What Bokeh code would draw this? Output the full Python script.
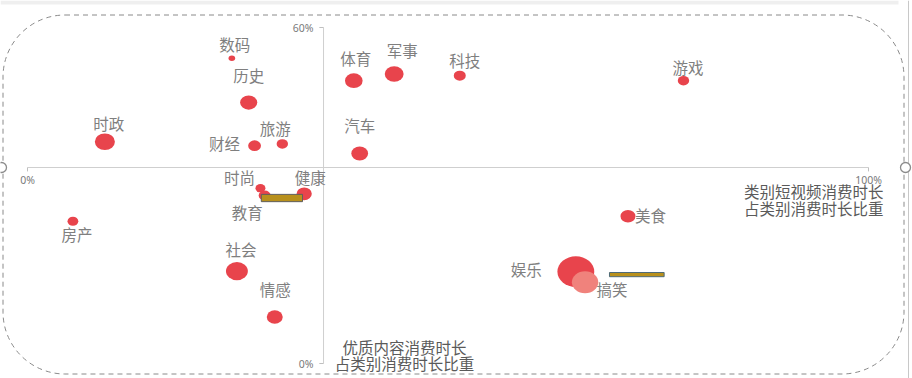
from bokeh.plotting import figure
from bokeh.models import Range1d, ColumnDataSource, BoxAnnotation
from bokeh.core.properties import value
from bokeh.embed import file_html
from bokeh.resources import INLINE

# ---------------- data ----------------
categories = ["数码", "历史", "时政", "财经", "旅游", "体育", "军事", "科技", "汽车", "游戏",
              "时尚", "教育", "健康", "房产", "社会", "情感", "美食", "娱乐", "搞笑"]
# x: 类别短视频消费时长占类别消费时长比重 (%)
short_video_share = [24.3, 26.3, 9.2, 27.0, 30.3, 38.8, 43.6, 51.4, 39.5, 78.0,
                     27.7, 28.2, 32.9, 5.4, 24.9, 29.4, 71.4, 65.2, 66.3]
# y: 优质内容消费时长占类别消费时长比重 (%)
quality_share = [54.5, 46.6, 39.6, 38.9, 39.2, 50.5, 51.7, 51.4, 37.5, 50.5,
                 31.3, 30.0, 30.3, 25.4, 16.5, 8.3, 26.3, 16.4, 14.5]
# bubble magnitude (relative)
bubble = [5.5, 14.3, 16.7, 10.7, 9.5, 14.7, 15.7, 10.0, 14.0, 9.5,
          8.3, 10.0, 12.7, 9.0, 18.3, 13.3, 12.5, 30.7, 22.0]

x_ticks = [0, 100]
x_tick_labels = ["0%", "100%"]
y_ticks = [0, 60]
y_tick_labels = ["0%", "60%"]
x_axis_cross = 35.0    # y value where horizontal axis sits
y_axis_cross = 35.2    # x value where vertical axis sits
x_title = ["类别短视频消费时长", "占类别消费时长比重"]
y_title = ["优质内容消费时长", "占类别消费时长比重"]

# highlight boxes (data units)
box_left = [27.8, 69.2]
box_right = [32.7, 75.7]
box_bottom = [28.9, 15.5]
box_top = [30.2, 16.25]

# ---------------- styling / layout ----------------
W, H = 912, 378
X0, XS = 27.0, 8.41     # pixel of x=0, pixels per unit
Y0, YS = 363.0, 5.6     # pixel of y=0, pixels per unit


def dx(px):
    return (px - X0) / XS


def dy(py):
    return (Y0 - py) / YS


LSHIFT = -2.5
label_dx = [3, 0, 4, -30, -7, 2, 8, 5, 0, 4.5, -21, -17.5, 6, 4, 4, 0.5, 22.5, -49.5, 27]
label_dy = [v + LSHIFT for v in
            [-11.5, -25.5, -16.5, -0.5, -13, -20, -21, -13.5, -26, -11, -9, 18.5, -14, 15.5, -20, -26, 1, -0.5, 9]]
colors = ["#E8444C"] * len(categories)
colors[categories.index("搞笑")] = "#F0827C"

p = figure(width=W, height=H, output_backend="svg", toolbar_location=None,
           x_range=Range1d(dx(0), dx(W)), y_range=Range1d(dy(H), dy(0)),
           min_border=0, x_axis_location=None, y_axis_location=None)
p.outline_line_color = None
p.grid.visible = False
p.background_fill_color = "white"
p.border_fill_color = "white"

FONT = value("Noto Sans CJK SC")

# top grey band and right edge line (slide frame)
p.add_layout(BoxAnnotation(left=dx(0), right=dx(898), top=dy(0), bottom=dy(4),
                           fill_color="#EFEFEF", fill_alpha=1, line_color=None, level="underlay"))
p.segment(x0=[dx(908)], y0=[dy(0)], x1=[dx(908)], y1=[dy(H)], line_color="#C8C8C8", line_width=1)

# dashed rounded frame
p.add_layout(BoxAnnotation(left=dx(2.5), right=dx(903.5), top=dy(14.5), bottom=dy(373.5),
                           fill_alpha=0, line_color="#8A8A8A", line_alpha=1, line_width=1,
                           line_dash="5 4", border_radius=62, level="underlay"))

# axes lines
p.segment(x0=[x_ticks[0]], y0=[x_axis_cross], x1=[x_ticks[-1]], y1=[x_axis_cross],
          line_color="#CFCFCF", line_width=1)
p.segment(x0=[y_axis_cross], y0=[y_ticks[0]], x1=[y_axis_cross], y1=[y_ticks[-1]],
          line_color="#CFCFCF", line_width=1)
# small ticks
p.segment(x0=x_ticks, y0=[x_axis_cross] * 2, x1=x_ticks, y1=[x_axis_cross - 0.7] * 2,
          line_color="#BFBFBF", line_width=1)
p.segment(x0=[y_axis_cross] * 2, y0=y_ticks, x1=[y_axis_cross - 0.5] * 2, y1=y_ticks,
          line_color="#BFBFBF", line_width=1)

# tick labels
p.text(x=x_ticks, y=[x_axis_cross] * 2, text=x_tick_labels, x_offset=0, y_offset=12,
       text_align="center", text_baseline="middle", text_font=value("Noto Sans"),
       text_font_size="10.5px", text_color="#7A7A7A")
p.text(x=[y_axis_cross] * 2, y=y_ticks, text=y_tick_labels, x_offset=-10, y_offset=0.5,
       text_align="right", text_baseline="middle", text_font=value("Noto Sans"),
       text_font_size="10.5px", text_color="#7A7A7A")

# axis titles
p.text(x=[x_ticks[-1]] * 2, y=[x_axis_cross] * 2, text=x_title, x_offset=15,
       y_offset=[23.5, 40], text_align="right", text_baseline="middle", text_font=FONT,
       text_font_size="15.5px", text_color="#5A5A5A")
p.text(x=[y_axis_cross] * 2, y=[y_ticks[0]] * 2, text=y_title, x_offset=81,
       y_offset=[-17, -1], text_align="center", text_baseline="middle", text_font=FONT,
       text_font_size="15.5px", text_color="#5A5A5A")

# bubbles
src = ColumnDataSource(dict(
    x=short_video_share, y=quality_share, name=categories,
    w=[b * 1.2 for b in bubble], h=bubble, color=colors,
    lx=label_dx, ly=label_dy,
))
p.ellipse(x="x", y="y", width="w", height="h", width_units="screen", height_units="screen",
          fill_color="color", line_color=None, source=src)

# highlight boxes
p.quad(left=box_left, right=box_right, bottom=box_bottom, top=box_top,
       fill_color="#B8901C", line_color=["#5E5E5E", "#4E6A78"], line_width=1)

# bubble labels
p.text(x="x", y="y", text="name", x_offset="lx", y_offset="ly", source=src,
       text_align="center", text_baseline="middle", text_font=FONT,
       text_font_size="15.5px", text_color="#7F7F7F")

# edge handles
p.scatter(x=[dx(1), dx(905)], y=[x_axis_cross] * 2, size=10, marker="circle",
          fill_color="white", line_color="#8C8C8C", line_width=1.3)

open("out.html", "w").write(file_html(p, INLINE))
